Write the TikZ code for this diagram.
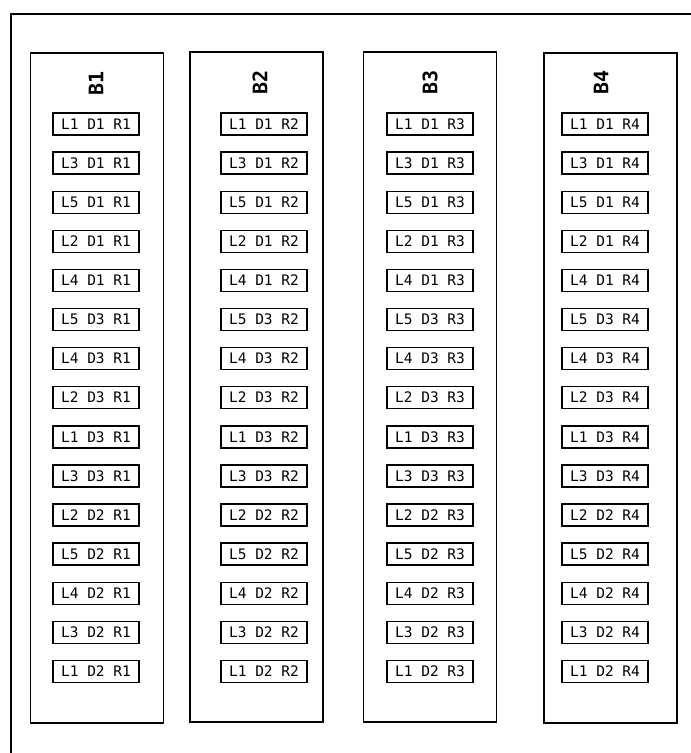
\documentclass[tikz,border=0pt]{standalone}
\usepackage{fontspec}
\setmonofont{DejaVu Sans Mono}
\usepackage{tikz}
\usetikzlibrary{positioning}

\begin{document}
\begin{tikzpicture}[
    x=1pt, y=-1pt,
    thick,
    frame/.style={draw, line width=1.8pt},
    bank/.style={draw, line width=1.4pt, minimum width=133pt, minimum height=670pt, inner sep=0pt},
    title/.style={rotate=90, font=\ttfamily\bfseries\fontsize{20}{20}\selectfont},
    slot/.style={draw, line width=1.4pt, minimum width=86pt, minimum height=22pt, inner sep=0pt,
        font=\ttfamily\fontsize{14.5}{15}\selectfont}
]
    \useasboundingbox (0,0) rectangle (691,753);
    % Rahmen
    \clip (0,0) rectangle (691,753);
    \draw[frame] (11,14) rectangle (720,790);

    % Baenke
    \node[bank] (b1) at (97,388) {};
    \node[bank] (b2) at (256.5,387) {};
    \node[bank] (b3) at (430,387) {};
    \node[bank] (b4) at (610.5,388) {};

    \node[title] (t1) at (96,83) {B1};
    \node[title] (t2) at (260,82) {B2};
    \node[title] (t3) at (430,82) {B3};
    \node[title] (t4) at (601,82) {B4};

    % Steckplaetze
    \foreach \b/\x in {1/96, 2/264, 3/430, 4/605} {
        \foreach \l [count=\i from 0] in {L1 D1, L3 D1, L5 D1, L2 D1, L4 D1, L5 D3, L4 D3, L2 D3,
                                          L1 D3, L3 D3, L2 D2, L5 D2, L4 D2, L3 D2, L1 D2} {
            \node[slot] (b\b s\i) at (\x, 124+39.1*\i) {\l\ R\b};
        }
    }

\end{tikzpicture}
\end{document}
